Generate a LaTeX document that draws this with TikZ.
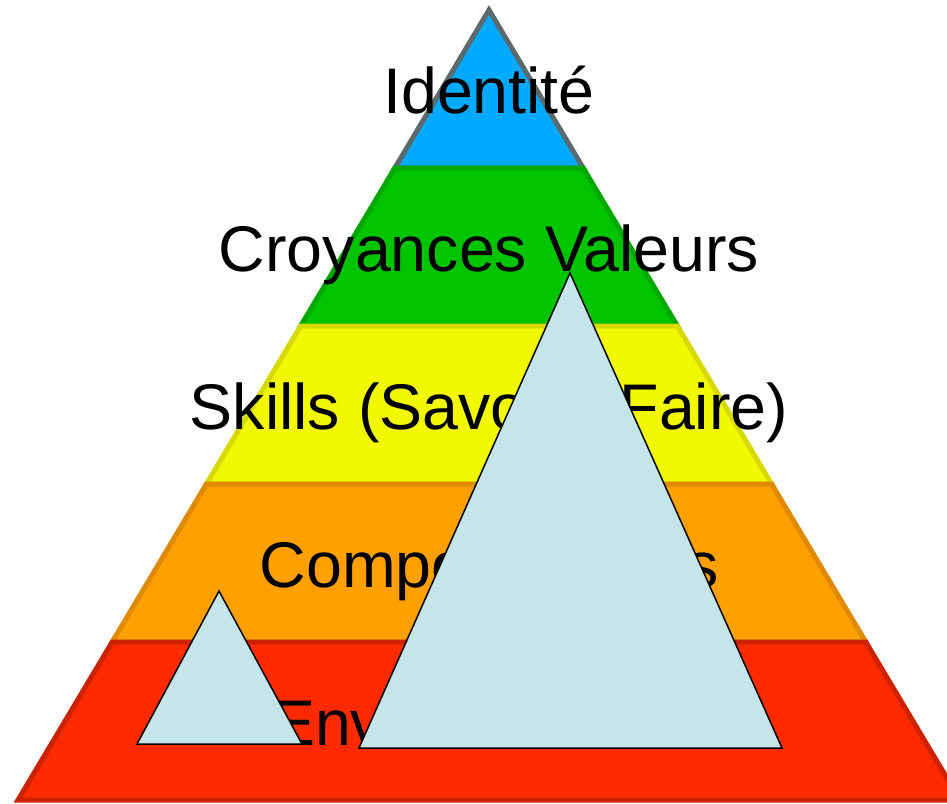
\documentclass[tikz,border=0pt]{standalone}
\usepackage{fontspec}
\setmainfont{Liberation Sans}
\definecolor{blueFill}{RGB}{0,170,255}
\definecolor{blueLine}{RGB}{92,106,110}
\definecolor{greenFill}{RGB}{0,196,0}
\definecolor{greenLine}{RGB}{0,168,0}
\definecolor{yellowFill}{RGB}{242,248,0}
\definecolor{yellowLine}{RGB}{214,218,0}
\definecolor{orangeFill}{RGB}{255,160,0}
\definecolor{orangeLine}{RGB}{224,138,0}
\definecolor{redFill}{RGB}{255,42,0}
\definecolor{redLine}{RGB}{204,34,0}
\definecolor{triFill}{RGB}{198,229,232}
\begin{document}
\begin{tikzpicture}[x=1pt,y=-1pt,
  layerbox/.style={line width=5pt, line join=miter},
  lbl/.style={anchor=base, font=\fontsize{64.5}{64.5}\selectfont, inner sep=0pt},
  lighttri/.style={fill=triFill, draw=black, line width=1.5pt, line join=miter}]
\useasboundingbox (0,0) rectangle (947,803);
% layers (top first)
\draw[layerbox, fill=blueFill, draw=blueLine] (489,10) -- (583.2,168) -- (394.8,168) -- cycle;
\draw[layerbox, fill=greenFill, draw=greenLine] (394.8,168) -- (583.2,168) -- (677.4,326) -- (300.6,326) -- cycle;
\draw[layerbox, fill=yellowFill, draw=yellowLine] (300.6,326) -- (677.4,326) -- (771.6,484) -- (206.4,484) -- cycle;
\draw[layerbox, fill=orangeFill, draw=orangeLine] (206.4,484) -- (771.6,484) -- (865.8,642) -- (112.2,642) -- cycle;
\draw[layerbox, fill=redFill, draw=redLine] (112.2,642) -- (865.8,642) -- (960,800) -- (18,800) -- cycle;
% labels
\node[lbl] (identite) at (489,113) {Identité};
\node[lbl] (croyances) at (489,271) {Croyances Valeurs};
\node[lbl] (skills) at (489,429) {Skills (Savoir - Faire)};
\node[lbl] (comport) at (489,587) {Comportements};
\node[lbl] (environ) at (489,745) {Environnement};
% light triangles
\draw[lighttri] (219,591) -- (302,744) -- (137,744) -- cycle;
\draw[lighttri] (570,273) -- (782,748) -- (359,748) -- cycle;
\end{tikzpicture}
\end{document}
